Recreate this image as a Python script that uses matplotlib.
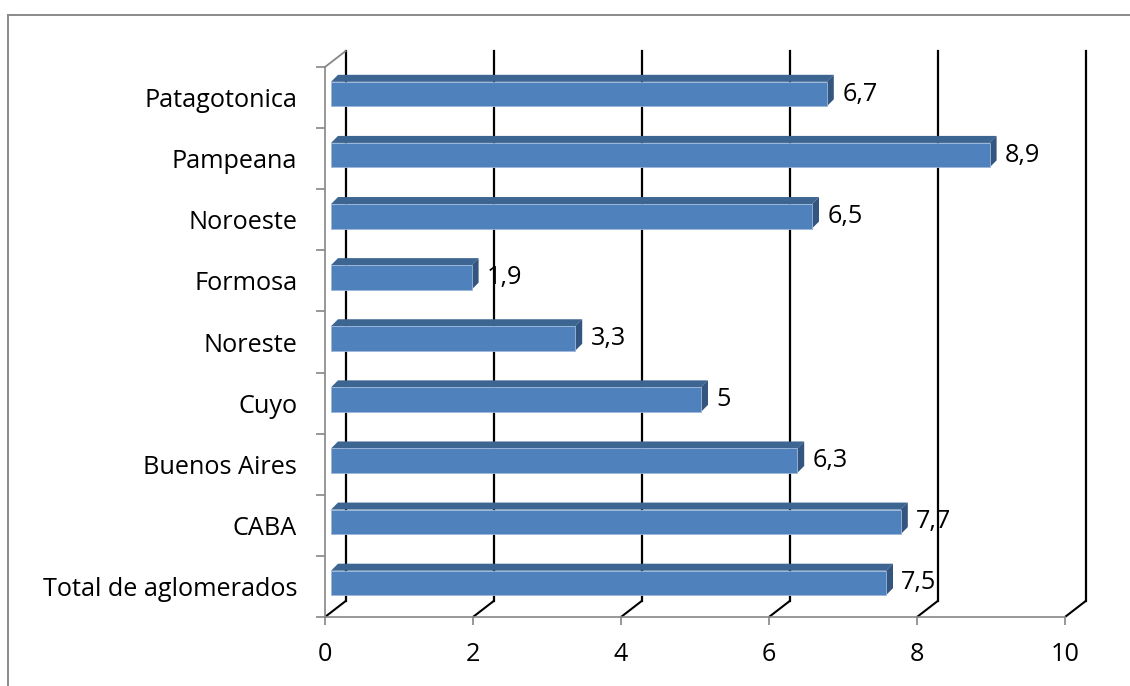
import numpy as np
import matplotlib.pyplot as plt
from matplotlib.patches import Polygon
from matplotlib.lines import Line2D

# Datos (de abajo hacia arriba)
regiones = ['Total de aglomerados', 'CABA', 'Buenos Aires', 'Cuyo', 'Noreste',
            'Formosa', 'Noroeste', 'Pampeana', 'Patagotonica']
valores = [7.5, 7.7, 6.3, 5, 3.3, 1.9, 6.5, 8.9, 6.7]
etiquetas = ['7,5', '7,7', '6,3', '5', '3,3', '1,9', '6,5', '8,9', '6,7']
xticks = [0, 2, 4, 6, 8, 10]

plt.rcParams['font.family'] = ['Open Sans', 'DejaVu Sans']

GRIS = '#868686'
AZUL = '#4F81BD'
AZUL_TOP = '#3D6592'
AZUL_LADO = '#335580'
FS = 18.2

W, H = 1130, 686
fig = plt.figure(figsize=(W / 100, H / 100), dpi=100)
ax = fig.add_axes([325 / W, 69 / H, 740 / W, 550 / H])
n = len(regiones)
ax.set_xlim(0, 10)
ax.set_ylim(-0.5, n - 0.5)
y0, y1 = ax.get_ylim()

# pixeles por unidad de datos
px_x = 740 / 10
px_y = 550 / n

# desplazamiento de la pared del fondo (efecto 3D)
OFF_X, OFF_Y = 20.7 / px_x, 16 / px_y
# desplazamiento de las barras y su profundidad
BX, BY = 6 / px_x, 3.5 / px_y
DX, DY = 7 / px_x, 7 / px_y
ALTO = 24.5 / px_y

# lineas de division (fondo + piso)
for x in xticks:
    ax.plot([x, x + OFF_X], [y0, y0 + OFF_Y], color='black', lw=1.5,
            clip_on=False, zorder=1, solid_capstyle='butt')
    ax.plot([x + OFF_X, x + OFF_X], [y0 + OFF_Y, y1 + OFF_Y], color='black',
            lw=1.6, clip_on=False, zorder=1)
# borde superior de la pared izquierda
ax.plot([0, OFF_X], [y1, y1 + OFF_Y], color=GRIS, lw=1.3, clip_on=False, zorder=1)

# barras
pos = np.arange(n) + BY
ax.barh(pos, valores, left=BX, height=ALTO, color=AZUL, zorder=3,
        edgecolor='#9DB7D9', linewidth=0.6)
for c, v in zip(pos, valores):
    top = c + ALTO / 2
    bot = c - ALTO / 2
    ax.add_patch(Polygon([(BX, top), (BX + v, top), (BX + v + DX, top + DY),
                          (BX + DX, top + DY)], closed=True,
                         facecolor=AZUL_TOP, edgecolor='none', zorder=2.5, clip_on=False))
    ax.add_patch(Polygon([(BX + v, bot), (BX + v, top), (BX + v + DX, top + DY),
                          (BX + v + DX, bot + DY)], closed=True,
                         facecolor=AZUL_LADO, edgecolor='none', zorder=2.5, clip_on=False))

# etiquetas de datos
for c, v, t in zip(pos, valores, etiquetas):
    ax.annotate(t, (BX + v + DX, c), xytext=(6, 0), textcoords='offset points',
                ha='left', va='center', fontsize=FS, color='black', zorder=5,
                annotation_clip=False)

# ejes
for s in ['top', 'right']:
    ax.spines[s].set_visible(False)
for s in ['left', 'bottom']:
    ax.spines[s].set_color(GRIS)
    ax.spines[s].set_linewidth(1.2)
    ax.spines[s].set_zorder(2)

ax.set_xticks(xticks)
ax.set_xticklabels([str(x) for x in xticks], fontsize=FS)
ax.tick_params(axis='x', length=6, width=1.2, color=GRIS, pad=12)

ax.set_yticks(np.arange(n))
ax.set_yticklabels(regiones, fontsize=FS)
ax.set_yticks(np.arange(-0.5, n), minor=True)
ax.tick_params(axis='y', which='major', length=0, pad=20)
ax.tick_params(axis='y', which='minor', length=6.5, width=1.2, color=GRIS)
ax.set_facecolor('none')

# marco del grafico
fig.add_artist(Line2D([8 / W, 8 / W], [0, 1 - 15 / H], transform=fig.transFigure,
                      color='#8A8A8A', lw=1.4))
fig.add_artist(Line2D([8 / W, 1], [1 - 15 / H, 1 - 15 / H], transform=fig.transFigure,
                      color='#8A8A8A', lw=1.4))

fig.savefig('out.png', dpi=100)
